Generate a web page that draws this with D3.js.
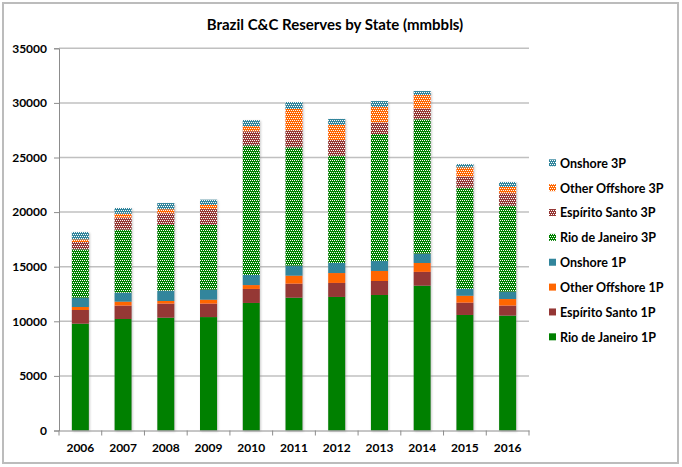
<!DOCTYPE html>
<html>
<head>
<meta charset="utf-8">
<script src="https://cdn.jsdelivr.net/npm/d3@7"></script>
<style>
  html, body { margin: 0; padding: 0; background: #fff; }
  svg text { font-family: Lato, "Liberation Sans", sans-serif; font-weight: bold; fill: #000; }
</style>
</head>
<body>
<svg id="chart" width="682" height="467"></svg>
<script>
const years = ['2006','2007','2008','2009','2010','2011','2012','2013','2014','2015','2016'];
const rioDeJaneiro1P = [9780,10210,10330,10390,11680,12160,12230,12410,13260,10580,10520];
const espiritoSanto1P = [1255,1220,1280,1220,1280,1280,1280,1280,1260,1120,910];
const otherOffshore1P = [275,370,250,370,360,740,910,920,820,640,610];
const onshore1P = [850,820,940,910,920,910,920,910,850,620,670];
const rioDeJaneiro3P = [4430,5770,6020,5930,11870,10840,9830,11630,12310,9280,7880];
const espiritoSanto3P = [670,1100,1070,1460,1290,1560,1430,1040,970,1000,1130];
const otherOffshore3P = [240,360,370,370,480,1950,1380,1430,1250,860,580];
const onshore3P = [680,525,570,490,550,640,550,550,370,300,460];
const yTicks = [0,5000,10000,15000,20000,25000,30000,35000];

const series = [
  {key:'Rio de Janeiro 1P', values:rioDeJaneiro1P, color:'#008000', pattern:false},
  {key:'Espírito Santo 1P', values:espiritoSanto1P, color:'#953735', pattern:false},
  {key:'Other Offshore 1P', values:otherOffshore1P, color:'#ff6600', pattern:false},
  {key:'Onshore 1P', values:onshore1P, color:'#31859c', pattern:false},
  {key:'Rio de Janeiro 3P', values:rioDeJaneiro3P, color:'#008000', pattern:true},
  {key:'Espírito Santo 3P', values:espiritoSanto3P, color:'#953735', pattern:true},
  {key:'Other Offshore 3P', values:otherOffshore3P, color:'#ff6600', pattern:true},
  {key:'Onshore 3P', values:onshore3P, color:'#31859c', pattern:true}
];

const table = years.map((yr, i) => {
  const row = {year: yr};
  series.forEach(s => row[s.key] = s.values[i]);
  return row;
});

const svg = d3.select('#chart');
const defs = svg.append('defs');

series.forEach((s, i) => {
  s.id = 'pat' + i;
  if (s.pattern) {
    const p = defs.append('pattern').attr('id', s.id)
      .attr('patternUnits', 'userSpaceOnUse').attr('width', 4).attr('height', 4);
    p.append('rect').attr('width', 4).attr('height', 4).attr('fill', s.color);
    [[0,0],[2,0],[1,2],[3,2]].forEach(([a,b]) =>
      p.append('rect').attr('x', a).attr('y', b).attr('width', 1).attr('height', 1).attr('fill', '#fff'));
  }
});
const fillOf = s => s.pattern ? `url(#${s.id})` : s.color;

const shadow = defs.append('filter').attr('id', 'shadow')
  .attr('x', '-20%').attr('y', '-5%').attr('width', '150%').attr('height', '115%');
shadow.append('feDropShadow').attr('dx', 1).attr('dy', 1).attr('stdDeviation', 0.8)
  .attr('flood-color', '#888').attr('flood-opacity', 0.45);

// outer frame
svg.append('rect').attr('x', 3).attr('y', 3).attr('width', 675).attr('height', 460)
  .attr('fill', 'none').attr('stroke', '#bcbcbc').attr('stroke-width', 2);

const x = d3.scaleBand().domain(years).range([59, 529]).paddingInner(0.6).paddingOuter(0.3);
const y = d3.scaleLinear().domain([0, 35000]).range([430.5, 48.3]);

// gridlines
svg.append('g').selectAll('line').data(yTicks.filter(d => d > 0)).join('line')
  .attr('x1', 59).attr('x2', 529)
  .attr('y1', d => y(d)).attr('y2', d => y(d))
  .attr('stroke', '#c0c0c0').attr('stroke-width', 1.5);

// bars
const stack = d3.stack().keys(series.map(s => s.key));
const stacked = stack(table);
const barG = svg.append('g');
const colG = barG.selectAll('g.col').data(years).join('g').attr('filter', 'url(#shadow)');
colG.each(function(yr, i) {
  const g = d3.select(this);
  stacked.forEach((layer, k) => {
    const d = layer[i];
    g.append('rect')
      .attr('x', x(yr))
      .attr('width', x.bandwidth())
      .attr('y', y(d[1]))
      .attr('height', y(d[0]) - y(d[1]))
      .attr('fill', fillOf(series[k]));
  });
});

// y axis
const yAxis = d3.axisLeft(y).tickValues(yTicks).tickSize(5).tickPadding(7).tickFormat(d3.format('d'));
const yg = svg.append('g').attr('transform', 'translate(59,0)').call(yAxis);
yg.select('.domain').attr('stroke', '#8c8c8c').attr('stroke-width', 1);
yg.selectAll('.tick line').attr('stroke', '#8c8c8c');
yg.selectAll('.tick text').style('font-size', '12px').style('font-family', 'Lato, sans-serif').style('font-weight', 'bold');

// x axis
const xAxis = d3.axisBottom(x).tickSize(0).tickPadding(13);
const xg = svg.append('g').attr('transform', 'translate(0,430.5)').call(xAxis);
xg.select('.domain').attr('stroke', '#8c8c8c').attr('stroke-width', 1);
xg.selectAll('.tick text').style('font-size', '12px').style('font-family', 'Lato, sans-serif').style('font-weight', 'bold');
const step = x.step();
const bounds = years.map(yr => x(yr) + x.bandwidth() / 2 - step / 2).concat([x(years[years.length-1]) + x.bandwidth()/2 + step/2]);
xg.selectAll('line.bt').data(bounds).join('line').attr('class', 'bt')
  .attr('x1', d => d).attr('x2', d => d).attr('y1', 0).attr('y2', 5)
  .attr('stroke', '#8c8c8c');

// title
svg.append('text').attr('x', 335).attr('y', 30).attr('text-anchor', 'middle')
  .style('font-size', '15px').text('Brazil C&C Reserves by State (mmbbls)');

// legend (reverse order)
const legendItems = series.slice().reverse();
const lg = svg.append('g');
legendItems.forEach((s, i) => {
  const cy = 163.3 + 24.86 * i;
  lg.append('rect').attr('x', 549).attr('y', cy - 4).attr('width', 7).attr('height', 7)
    .attr('fill', fillOf(s));
  lg.append('text').attr('x', 560).attr('y', cy).attr('dy', '0.35em')
    .style('font-size', '12.5px').text(s.key);
});
</script>
</body>
</html>
